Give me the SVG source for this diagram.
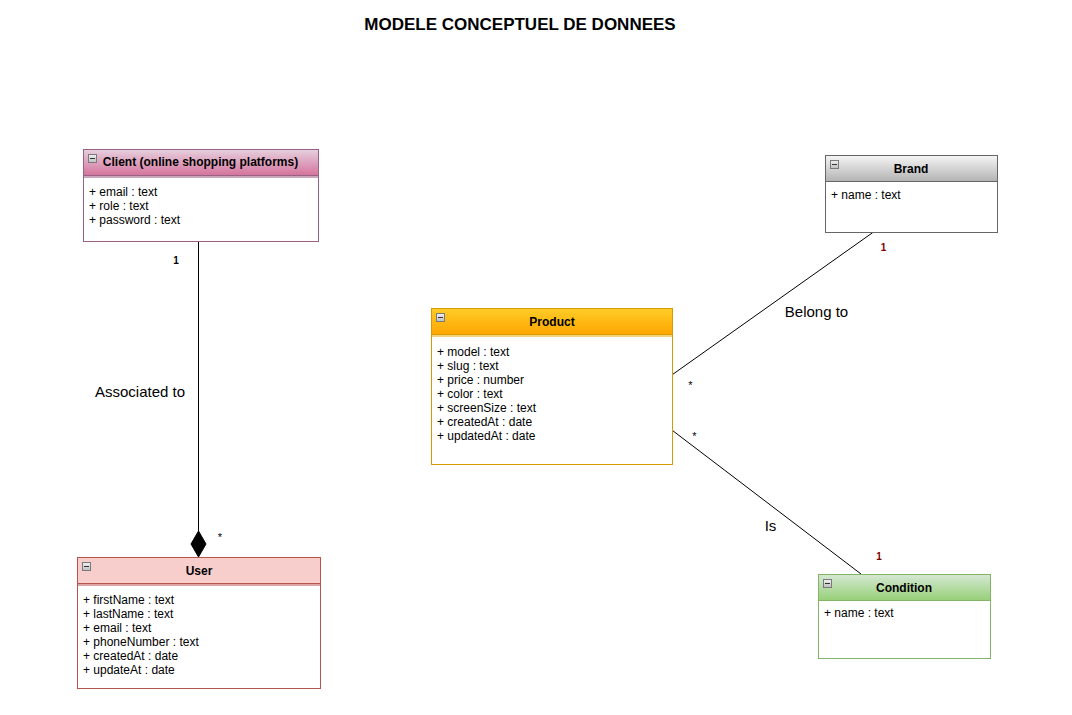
<svg xmlns="http://www.w3.org/2000/svg" width="1072" height="715" viewBox="0 0 1072 715">
<style>
text{font-family:"Liberation Sans",Arial,sans-serif;fill:#000}
.title{font-size:17px;font-weight:bold}
.hd{font-size:12px;font-weight:bold;text-anchor:middle}
.at{font-size:12px}
.lbl{font-size:15px}
.mul{font-size:11px}
.one{font-size:10px;font-weight:bold;text-anchor:middle}
.edge{stroke:#000;stroke-width:1;fill:none}
.body{fill:#fff}
</style>
<defs>
<linearGradient id="gPink" x1="0" y1="0" x2="0" y2="1"><stop offset="0" stop-color="#e6d0de"/><stop offset="1" stop-color="#d5739d"/></linearGradient>
<linearGradient id="gOrange" x1="0" y1="0" x2="0" y2="1"><stop offset="0" stop-color="#ffcd28"/><stop offset="1" stop-color="#ffa500"/></linearGradient>
<linearGradient id="gGrey" x1="0" y1="0" x2="0" y2="1"><stop offset="0" stop-color="#f5f5f5"/><stop offset="1" stop-color="#b3b3b3"/></linearGradient>
<linearGradient id="gGreen" x1="0" y1="0" x2="0" y2="1"><stop offset="0" stop-color="#d5e8d4"/><stop offset="1" stop-color="#97d077"/></linearGradient>
<linearGradient id="gIcon" x1="0" y1="0" x2="0" y2="1"><stop offset="0" stop-color="#f2f2f2"/><stop offset="1" stop-color="#bdbdbd"/></linearGradient>
<g id="minus"><rect x="0.5" y="0.5" width="8" height="8" fill="url(#gIcon)" stroke="#7a7a7a" stroke-width="1"/><line x1="2" y1="4.5" x2="7" y2="4.5" stroke="#333" stroke-width="1"/></g>
</defs>

<text class="title" x="520" y="30" text-anchor="middle">MODELE CONCEPTUEL DE DONNEES</text>

<g id="connectors">
<g id="edge-client-user">
<line class="edge" x1="198.5" y1="241" x2="198.5" y2="531"/>
<polygon points="198.5,531 206,544 198.5,557 191,544" fill="#000" stroke="#000"/>
<text class="one" x="176" y="264">1</text>
<text class="mul" x="220" y="541" text-anchor="middle">*</text>
<text class="lbl" x="140" y="397" text-anchor="middle">Associated to</text>
</g>
<g id="edge-product-brand">
<line class="edge" x1="672.5" y1="374.5" x2="873.5" y2="232"/>
<text class="one" x="883.5" y="251" style="fill:#800000">1</text>
<text class="mul" x="690.5" y="389" text-anchor="middle">*</text>
<text class="lbl" x="816.5" y="317" text-anchor="middle">Belong to</text>
</g>
<g id="edge-product-condition">
<line class="edge" x1="672.5" y1="430.5" x2="861" y2="574"/>
<text class="mul" x="694.5" y="440" text-anchor="middle">*</text>
<text class="one" x="879" y="560" style="fill:#800000">1</text>
<text class="lbl" x="770.5" y="531" text-anchor="middle">Is</text>
</g>
</g>

<g id="node-client">
<rect class="body" x="83.5" y="149.5" width="235" height="92" stroke="#996185"/>
<rect x="83.5" y="149.5" width="235" height="26" fill="url(#gPink)" stroke="#996185"/>
<rect x="84" y="176" width="234" height="2" fill="#c9a6bb"/>
<use href="#minus" x="88" y="154"/>
<text class="hd" x="200.5" y="166">Client (online shopping platforms)</text>
<text class="at" x="89" y="196">+ email : text</text>
<text class="at" x="89" y="210">+ role : text</text>
<text class="at" x="89" y="224">+ password : text</text>
</g>

<g id="node-user">
<rect class="body" x="77.5" y="557.5" width="243" height="131" stroke="#b85450"/>
<rect x="77.5" y="557.5" width="243" height="26" fill="#f8cecc" stroke="#b85450"/>
<rect x="78" y="584" width="242" height="2" fill="#dba5a3"/>
<use href="#minus" x="82" y="562"/>
<text class="hd" x="199" y="575">User</text>
<text class="at" x="83" y="604">+ firstName : text</text>
<text class="at" x="83" y="618">+ lastName : text</text>
<text class="at" x="83" y="632">+ email : text</text>
<text class="at" x="83" y="646">+ phoneNumber : text</text>
<text class="at" x="83" y="660">+ createdAt : date</text>
<text class="at" x="83" y="674">+ updateAt : date</text>
</g>

<g id="node-product">
<rect class="body" x="431.5" y="308.5" width="241" height="156" stroke="#d79b00"/>
<rect x="431.5" y="308.5" width="241" height="26" fill="url(#gOrange)" stroke="#d79b00"/>
<rect x="432" y="335" width="240" height="2" fill="#f0d27a"/>
<use href="#minus" x="436" y="313"/>
<text class="hd" x="552" y="326">Product</text>
<text class="at" x="437" y="356">+ model : text</text>
<text class="at" x="437" y="370">+ slug : text</text>
<text class="at" x="437" y="384">+ price : number</text>
<text class="at" x="437" y="398">+ color : text</text>
<text class="at" x="437" y="412">+ screenSize : text</text>
<text class="at" x="437" y="426">+ createdAt : date</text>
<text class="at" x="437" y="440">+ updatedAt : date</text>
</g>

<g id="node-brand">
<rect class="body" x="825.5" y="155.5" width="172" height="77" stroke="#666666"/>
<rect x="825.5" y="155.5" width="172" height="26" fill="url(#gGrey)" stroke="#666666"/>
<use href="#minus" x="830" y="160"/>
<text class="hd" x="911" y="173">Brand</text>
<text class="at" x="831" y="199">+ name : text</text>
</g>

<g id="node-condition">
<rect class="body" x="818.5" y="574.5" width="172" height="84" stroke="#82b366"/>
<rect x="818.5" y="574.5" width="172" height="26" fill="url(#gGreen)" stroke="#82b366"/>
<use href="#minus" x="823" y="579"/>
<text class="hd" x="904" y="592">Condition</text>
<text class="at" x="824" y="617">+ name : text</text>
</g>
</svg>
